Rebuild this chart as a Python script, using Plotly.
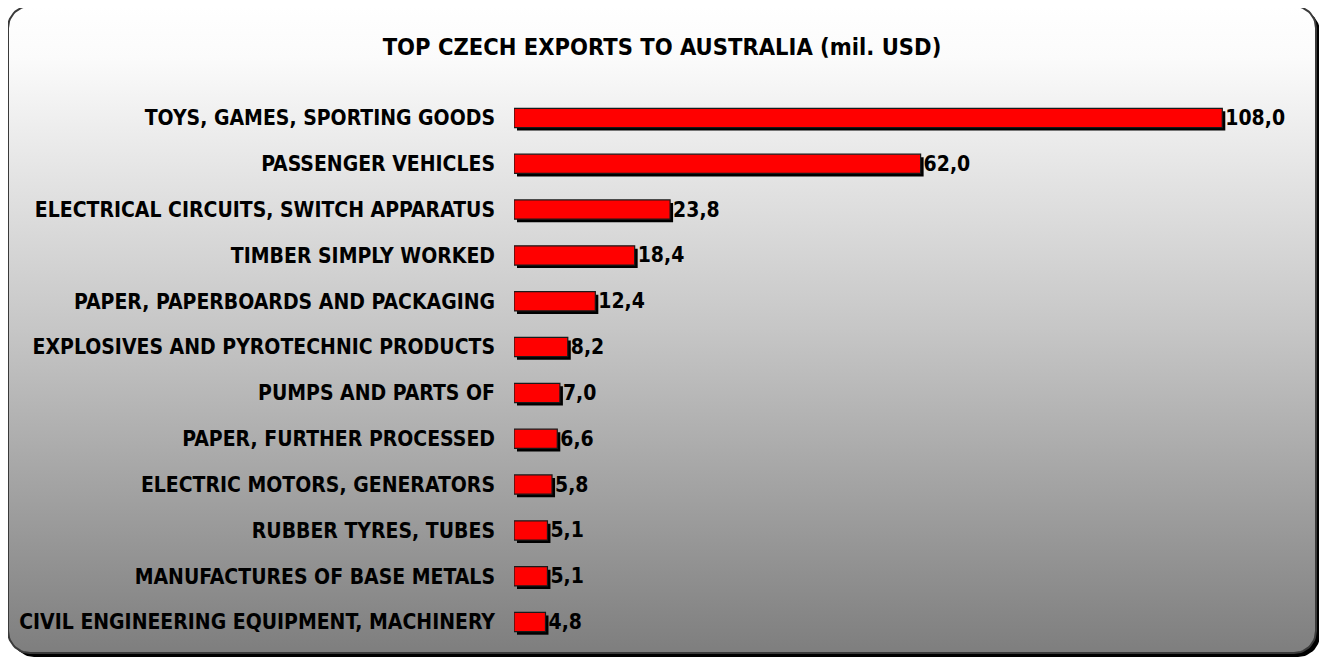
import numpy as np
import plotly.graph_objects as go

# ---------------- data ----------------
categories = [
    "TOYS, GAMES, SPORTING GOODS",
    "PASSENGER VEHICLES",
    "ELECTRICAL CIRCUITS, SWITCH APPARATUS",
    "TIMBER SIMPLY WORKED",
    "PAPER, PAPERBOARDS AND PACKAGING",
    "EXPLOSIVES AND PYROTECHNIC PRODUCTS",
    "PUMPS AND PARTS OF",
    "PAPER, FURTHER PROCESSED",
    "ELECTRIC MOTORS, GENERATORS",
    "RUBBER TYRES, TUBES",
    "MANUFACTURES OF BASE METALS",
    "CIVIL ENGINEERING EQUIPMENT, MACHINERY",
]
values = [108.0, 62.0, 23.8, 18.4, 12.4, 8.2, 7.0, 6.6, 5.8, 5.1, 5.1, 4.8]
title_text = "TOP CZECH EXPORTS TO AUSTRALIA (mil. USD)"

# ---------------- layout constants ----------------
W, H = 1327, 659
OFF = 8  # page body margin: figure pixel = screen pixel - OFF
FONT = "DejaVu Sans Condensed, DejaVu Sans, sans-serif"

X_MAX = 120.0
PX0, PX1 = 514.0, 1301.0          # screen-pixel span of the bar axis
K = (PX1 - PX0) / X_MAX            # pixels per unit
SHADOW_PX = 3.0
ROW_TOP, ROW_BOT = 95.0, 645.0     # screen-pixel span of the category axis
BAR_W = 0.42
ROW_PX = (ROW_BOT - ROW_TOP) / len(categories)


def rounded_rect(x0, y0, x1, y1, r, n=16):
    xs, ys = [], []
    corners = [
        (x0 + r, y0 + r, 180, 270),
        (x1 - r, y0 + r, 270, 360),
        (x1 - r, y1 - r, 0, 90),
        (x0 + r, y1 - r, 90, 180),
    ]
    for cx, cy, a0, a1 in corners:
        for a in np.linspace(np.radians(a0), np.radians(a1), n):
            xs.append(cx + r * np.cos(a))
            ys.append(cy + r * np.sin(a))
    xs.append(xs[0])
    ys.append(ys[0])
    return xs, ys


fig = go.Figure()

# panel shadow
sx, sy = rounded_rect(12, 10, 1320, 657, 22)
fig.add_trace(go.Scatter(x=sx, y=sy, mode="lines", fill="toself",
                         fillcolor="#000000", line=dict(width=0, color="#000000"),
                         hoverinfo="skip", showlegend=False, xaxis="x", yaxis="y"))
# panel with vertical gradient
px_, py_ = rounded_rect(8, 6, 1316, 653, 22)
fig.add_trace(go.Scatter(
    x=px_, y=py_, mode="lines", fill="toself",
    fillgradient=dict(type="vertical", start=6, stop=653,
                      colorscale=[[0, "#ffffff"], [0.08, "#fbfbfb"],
                                  [0.5, "#c6c6c6"], [1, "#7e7e7e"]]),
    line=dict(width=2, color="#3a3a3a"),
    hoverinfo="skip", showlegend=False, xaxis="x", yaxis="y"))

# bar shadows
fig.add_trace(go.Bar(
    x=values, y=categories, orientation="h", width=BAR_W,
    offset=-BAR_W / 2 + SHADOW_PX / ROW_PX,
    marker=dict(color="#000000", line=dict(width=0)),
    hoverinfo="skip", showlegend=False, xaxis="x2", yaxis="y2"))
# red bars
fig.add_trace(go.Bar(
    x=values, y=categories, orientation="h", width=BAR_W,
    marker=dict(color="#ff0000", line=dict(width=1.2, color="#1a1a1a")),
    text=values, texttemplate="<b>%{x:.1f}</b>", textposition="outside",
    constraintext="none",
    textfont=dict(family=FONT, size=21, color="#000000"),
    cliponaxis=False, showlegend=False, xaxis="x3", yaxis="y2"))

fig.update_layout(
    width=W, height=H,
    margin=dict(l=0, r=0, t=0, b=0),
    paper_bgcolor="#ffffff", plot_bgcolor="rgba(0,0,0,0)",
    separators=",.",
    barmode="overlay",
    title=dict(text="<b>" + title_text + "</b>", x=(662 - OFF) / W, xanchor="center",
               y=1 - (47 - OFF) / H, yanchor="middle", yref="paper",
               font=dict(family=FONT, size=23.5, color="#000000")),
    xaxis=dict(domain=[0, 1], range=[OFF, W + OFF], visible=False, fixedrange=True),
    yaxis=dict(domain=[0, 1], range=[H + OFF, OFF], visible=False, fixedrange=True),
    xaxis2=dict(domain=[(PX0 - OFF) / W, (PX1 - OFF) / W], anchor="y2",
                range=[-SHADOW_PX / K, X_MAX - SHADOW_PX / K],
                visible=False, fixedrange=True),
    xaxis3=dict(overlaying="x2", anchor="y2", range=[0, X_MAX],
                visible=False, fixedrange=True),
    yaxis2=dict(domain=[1 - (ROW_BOT - OFF) / H, 1 - (ROW_TOP - OFF) / H], anchor="x2",
                categoryorder="array", categoryarray=categories,
                autorange="reversed", showgrid=False, zeroline=False,
                showline=False, ticks="", ticklabelstandoff=18,
                tickfont=dict(family=FONT, size=21, color="#000000"),
                tickprefix="<b>", ticksuffix="</b>", fixedrange=True),
)

fig.write_html("out.html")
